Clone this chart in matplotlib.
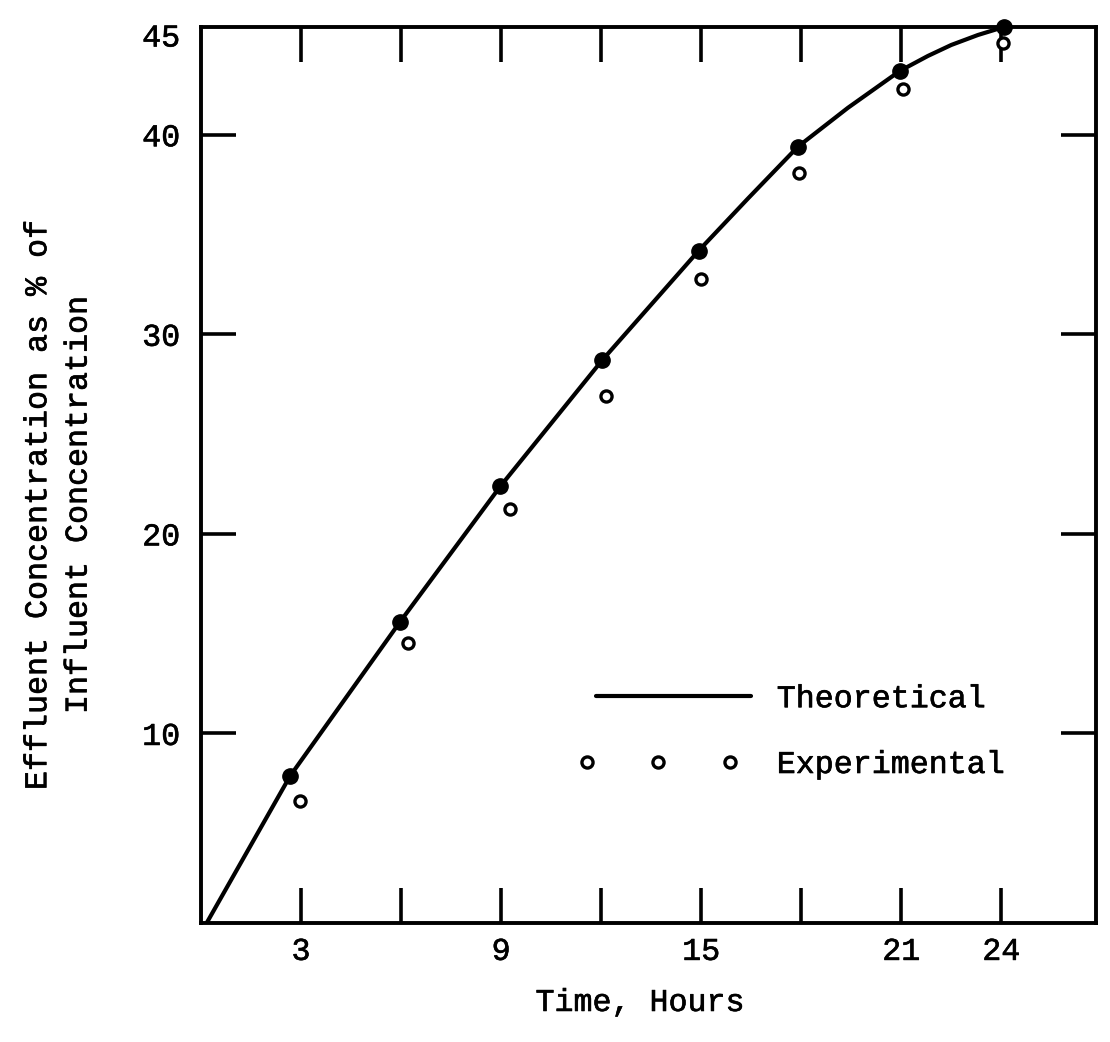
import matplotlib
matplotlib.use("Agg")
import numpy as np
import matplotlib.pyplot as plt
import matplotlib.patheffects as pe
from matplotlib.legend_handler import HandlerLine2D

# ---- data ----
theory_x = [2.67, 5.96, 8.98, 12.03, 14.93, 17.9, 20.96, 24.08]
theory_y = [7.86, 15.57, 22.39, 28.7, 34.2, 39.4, 43.2, 45.4]

curve_x = [0, 2.67, 5.96, 8.98, 12.03, 14.93, 16.4, 17.9, 19.4, 20.96, 21.8, 22.5, 23.3, 24.08]
curve_y = [0, 7.86, 15.57, 22.39, 28.7, 34.2, 36.8, 39.4, 41.35, 43.2, 43.95, 44.5, 45.0, 45.4]

exp_x = [2.97, 6.2, 9.26, 12.15, 15.0, 17.92, 21.06, 24.06]
exp_y = [6.61, 14.53, 21.25, 26.9, 32.77, 38.08, 42.3, 44.6]

x_ticks = [3, 6, 9, 12, 15, 18, 21, 24]
x_ticklabels = ["3", "", "9", "", "15", "", "21", "24"]
y_ticks = [10, 20, 30, 40, 45]
y_ticklabels = ["10", "20", "30", "40", "45"]

x_label = "Time, Hours"
y_label = "Effluent Concentration as % of\nInfluent Concentration"
legend_labels = ["Theoretical", "Experimental"]

FONT = ["Liberation Mono", "DejaVu Sans Mono"]
FS = 22.8
plt.rcParams["font.family"] = FONT
INK = [pe.withStroke(linewidth=0.45, foreground="black")]


class SpacedMarkers(HandlerLine2D):
    """Legend handler placing three sample markers across the left part of the handle."""
    def get_xdata(self, legend, xdescent, ydescent, width, height, fontsize):
        xdata = -xdescent + width * np.array([0.0, 0.41, 0.82])
        return xdata, xdata


fig = plt.figure(figsize=(11.10, 10.42), dpi=100)
W, H = 1110, 1042
left, right, top, bottom = 201, 1096, 27, 923
ax = fig.add_axes([left / W, 1 - bottom / H, (right - left) / W, (bottom - top) / H])

line, = ax.plot(curve_x, curve_y, color="black", lw=3.0, solid_capstyle="round",
                solid_joinstyle="round", zorder=3)
ax.plot(theory_x, theory_y, linestyle="none", marker="o", markersize=11,
        color="black", clip_on=False, zorder=4)
exp, = ax.plot(exp_x, exp_y, linestyle="none", marker="o", markersize=8,
               markerfacecolor="white", markeredgecolor="black",
               markeredgewidth=2.4, clip_on=False, zorder=4)

ax.set_xlim(0, 26.84)
ax.set_ylim(0.5, 45.4)

ax.set_xticks(x_ticks)
ax.set_xticklabels(x_ticklabels, fontsize=FS)
ax.set_yticks(y_ticks)
ax.set_yticklabels(y_ticklabels, fontsize=FS)

ax.tick_params(axis="both", direction="in", length=25, width=2.6,
               top=True, right=True, color="black")
ax.tick_params(axis="x", pad=10)
ax.tick_params(axis="y", pad=15)
t45 = ax.yaxis.get_major_ticks()[-1]
t45.tick1line.set_visible(False)
t45.tick2line.set_visible(False)

for s in ax.spines.values():
    s.set_linewidth(2.8)
    s.set_color("black")

ax.set_xlabel(x_label, fontsize=FS)
ax.xaxis.set_label_coords(0.4905, -0.0725)
ax.set_ylabel(y_label, fontsize=FS, linespacing=1.45, multialignment="center")
ax.yaxis.set_label_coords(-0.12, 0.4665)

leg = ax.legend([line, exp], legend_labels, loc="upper left",
                bbox_to_anchor=(0.431, 0.2665), frameon=False, fontsize=FS,
                handlelength=5.5, handletextpad=0.5, numpoints=3,
                labelspacing=1.13, borderpad=0, borderaxespad=0,
                handler_map={exp: SpacedMarkers()})

for t in (ax.get_xticklabels() + ax.get_yticklabels() + leg.get_texts()
          + [ax.xaxis.label, ax.yaxis.label]):
    t.set_path_effects(INK)

fig.savefig("out.png", dpi=100)
